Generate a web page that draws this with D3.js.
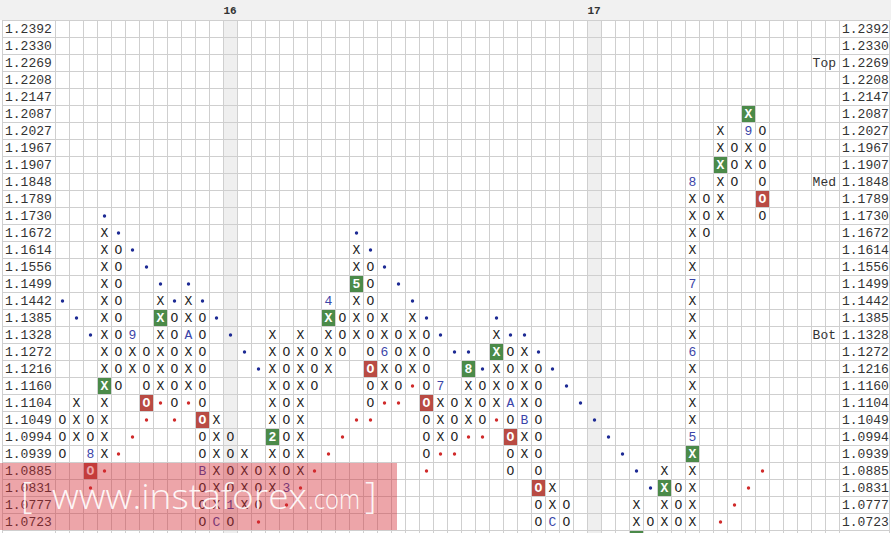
<!DOCTYPE html>
<html><head><meta charset="utf-8">
<script src="https://cdn.jsdelivr.net/npm/d3@7"></script>
<style>body{margin:0;background:#fff}svg{display:block}</style>
</head><body><svg id="c" width="891" height="533"></svg>
<script>
// ---- DATA ----
const priceLevels = ["1.2392","1.2330","1.2269","1.2208","1.2147","1.2087","1.2027","1.1967","1.1907","1.1848",
  "1.1789","1.1730","1.1672","1.1614","1.1556","1.1499","1.1442","1.1385","1.1328","1.1272",
  "1.1216","1.1160","1.1104","1.1049","1.0994","1.0939","1.0885","1.0831","1.0777","1.0723","1.0669"];
const shownLevels = priceLevels.slice(0, 30);
// one entry per column: [type, top level, bottom level] (null = empty column)
const boxColumns = [
  ["O","1.1049","1.0939"],["X","1.1104","1.0994"],["O","1.1049","1.0885"],["X","1.1672","1.0939"],
  ["O","1.1614","1.1160"],["X","1.1328","1.1216"],["O","1.1272","1.1104"],["X","1.1442","1.1160"],
  ["O","1.1385","1.1104"],["X","1.1442","1.1160"],["O","1.1385","1.0723"],["X","1.1049","1.0723"],
  ["O","1.0994","1.0723"],["X","1.0939","1.0777"],["O","1.0885","1.0777"],["X","1.1328","1.0831"],
  ["O","1.1272","1.0831"],["X","1.1328","1.0885"],["O","1.1272","1.1160"],["X","1.1442","1.1216"],
  ["O","1.1385","1.1272"],["X","1.1614","1.1328"],["O","1.1556","1.1104"],["X","1.1385","1.1160"],
  ["O","1.1328","1.1160"],["X","1.1385","1.1216"],["O","1.1328","1.0939"],["X","1.1160","1.0994"],
  ["O","1.1104","1.0994"],["X","1.1216","1.1049"],["O","1.1160","1.1049"],["X","1.1328","1.1104"],
  ["O","1.1272","1.0885"],["X","1.1272","1.0939"],["O","1.1216","1.0723"],["X","1.0831","1.0723"],
  ["O","1.0777","1.0723"],null,null,null,null,["X","1.0777","1.0669"],
  ["O","1.0723","1.0723"],["X","1.0885","1.0723"],["O","1.0831","1.0723"],["X","1.1848","1.0723"],
  ["O","1.1789","1.1672"],["X","1.2027","1.1730"],["O","1.1967","1.1848"],["X","1.2087","1.1907"],
  ["O","1.2027","1.1730"]
];
const columnCount = 56;
// month markers: [column, level, label]
const monthMarks = [
  [2,"1.0939","8"],[5,"1.1328","9"],[9,"1.1328","A"],[10,"1.0885","B"],[11,"1.0723","C"],
  [12,"1.0777","1"],[15,"1.0994","2"],[16,"1.0831","3"],[19,"1.1442","4"],[21,"1.1499","5"],
  [23,"1.1272","6"],[27,"1.1160","7"],[29,"1.1216","8"],[32,"1.1104","A"],[33,"1.1049","B"],
  [35,"1.0723","C"],[45,"1.0994","5"],[45,"1.1272","6"],[45,"1.1499","7"],[45,"1.1848","8"],[49,"1.2027","9"]
];
const greenBoxes = [[3,"1.1160"],[7,"1.1385"],[15,"1.0994"],[19,"1.1385"],[21,"1.1499"],[29,"1.1216"],
  [31,"1.1272"],[41,"1.0669"],[43,"1.0831"],[45,"1.0939"],[47,"1.1907"],[49,"1.2087"]];
const redBoxes = [[2,"1.0885"],[6,"1.1104"],[10,"1.1049"],[22,"1.1216"],[26,"1.1104"],[32,"1.0994"],
  [34,"1.0831"],[50,"1.1789"]];
const supportDots = [[0,"1.1442"],[1,"1.1385"],[2,"1.1328"],[3,"1.1730"],[4,"1.1672"],[5,"1.1614"],
  [6,"1.1556"],[7,"1.1499"],[8,"1.1442"],[9,"1.1499"],[10,"1.1442"],[11,"1.1385"],[12,"1.1328"],
  [13,"1.1272"],[14,"1.1216"],[21,"1.1672"],[22,"1.1614"],[23,"1.1556"],[24,"1.1499"],[25,"1.1442"],
  [26,"1.1385"],[27,"1.1328"],[28,"1.1272"],[29,"1.1272"],[30,"1.1216"],[31,"1.1385"],[32,"1.1328"],
  [33,"1.1328"],[34,"1.1272"],[35,"1.1216"],[36,"1.1160"],[37,"1.1104"],[38,"1.1049"],[39,"1.0994"],
  [40,"1.0939"],[41,"1.0885"],[42,"1.0831"]];
const resistanceDots = [[2,"1.0831"],[3,"1.0885"],[4,"1.0939"],[5,"1.0994"],[6,"1.1049"],[7,"1.1104"],
  [8,"1.1049"],[9,"1.1104"],[14,"1.0723"],[16,"1.0777"],[17,"1.0831"],[18,"1.0885"],[19,"1.0939"],
  [20,"1.0994"],[21,"1.1049"],[22,"1.1049"],[23,"1.1104"],[24,"1.1104"],[25,"1.1160"],[26,"1.0885"],
  [27,"1.0939"],[28,"1.0939"],[29,"1.0994"],[30,"1.0994"],[31,"1.1049"],[47,"1.0723"],[48,"1.0777"],
  [49,"1.0831"],[50,"1.0885"]];
const yearMarks = [[12,"16"],[38,"17"]];
const levelTags = [["1.2269","Top"],["1.1848","Med"],["1.1328","Bot"]];

// ---- DRAW ----
const W = 891, H = 533;
const svg = d3.select("#c");
const x = d3.scaleBand().domain(d3.range(columnCount)).range([55, 839]);
const y = d3.scaleBand().domain(priceLevels).range([20, 20 + 17 * priceLevels.length]);
const bw = x.bandwidth(), bh = y.bandwidth();
const mono = "'Courier New','Liberation Mono',monospace";

svg.append("rect").attr("width", W).attr("height", H).attr("fill", "#fff");
svg.append("rect").attr("x", 0).attr("y", 0).attr("width", W).attr("height", 20).attr("fill", "#f1f1f1");

// year shading
svg.selectAll("rect.yr").data(yearMarks).join("rect").attr("class", "yr")
  .attr("x", d => x(d[0])).attr("y", 20).attr("width", bw).attr("height", H - 20).attr("fill", "#efefef");
svg.selectAll("text.yr").data(yearMarks).join("text").attr("class", "yr")
  .attr("x", d => x(d[0]) + bw / 2).attr("y", 14).attr("text-anchor", "middle")
  .attr("font-family", mono).attr("font-size", 11).attr("font-weight", "bold").attr("fill", "#333").text(d => d[1]);

// grid
const g = svg.append("g").attr("stroke", "#cfcfcf").attr("stroke-width", 1);
const vx = d3.range(columnCount + 1).map(i => i < columnCount ? x(i) : x(columnCount - 1) + bw);
g.selectAll("line.v").data(vx.concat([2, 889])).join("line").attr("class", "v")
  .attr("x1", d => Math.round(d) + 0.5).attr("x2", d => Math.round(d) + 0.5).attr("y1", 20).attr("y2", H);
const hy = priceLevels.map(p => y(p));
g.selectAll("line.h").data(hy).join("line").attr("class", "h")
  .attr("x1", 2).attr("x2", 889.5).attr("y1", d => Math.round(d) + 0.5).attr("y2", d => Math.round(d) + 0.5);

// axis labels
[[5, "start"], [842, "start"]].forEach(([px, anchor]) => {
  svg.append("g").selectAll("text").data(shownLevels).join("text")
    .attr("x", px).attr("y", d => y(d) + bh / 2 + 1).attr("dominant-baseline", "middle")
    .attr("text-anchor", anchor).attr("font-family", mono).attr("font-size", 13).attr("fill", "#333").text(d => d);
});
svg.append("g").selectAll("text").data(levelTags).join("text")
  .attr("x", 836).attr("y", d => y(d[0]) + bh / 2 + 1).attr("dominant-baseline", "middle")
  .attr("text-anchor", "end").attr("font-family", mono).attr("font-size", 13).attr("fill", "#333").text(d => d[1]);

// boxes
const boxes = [];
boxColumns.forEach((c, i) => {
  if (!c) return;
  const a = priceLevels.indexOf(c[1]), b = priceLevels.indexOf(c[2]);
  for (let k = a; k <= b; k++) boxes.push({col: i, level: priceLevels[k], label: c[0], month: false});
});
const key = (c, l) => c + "|" + l;
const boxMap = new Map(boxes.map(d => [key(d.col, d.level), d]));
monthMarks.forEach(([c, l, t]) => { const d = boxMap.get(key(c, l)); if (d) { d.label = t; d.month = true; } });
const fillMap = new Map();
greenBoxes.forEach(([c, l]) => fillMap.set(key(c, l), "#4b8a49"));
redBoxes.forEach(([c, l]) => fillMap.set(key(c, l), "#b94b43"));

svg.append("g").selectAll("rect").data([...fillMap.entries()]).join("rect")
  .attr("x", d => x(+d[0].split("|")[0]) + 1).attr("y", d => y(d[0].split("|")[1]) + 1)
  .attr("width", bw - 1).attr("height", bh - 1).attr("fill", d => d[1]);

svg.append("g").selectAll("text").data(boxes.filter(d => shownLevels.includes(d.level))).join("text")
  .attr("x", d => x(d.col) + bw / 2 + 0.5).attr("y", d => y(d.level) + bh / 2 + 1)
  .attr("text-anchor", "middle").attr("dominant-baseline", "middle")
  .attr("font-family", mono).attr("font-size", 13)
  .attr("font-weight", d => fillMap.has(key(d.col, d.level)) ? "bold" : "normal")
  .attr("fill", d => fillMap.has(key(d.col, d.level)) ? "#fff" : (d.month ? "#3a44a8" : "#222"))
  .text(d => d.label);

// trend dots
svg.append("g").selectAll("circle").data(supportDots).join("circle")
  .attr("cx", d => x(d[0]) + bw / 2 + 0.5).attr("cy", d => y(d[1]) + bh / 2 + 0.5).attr("r", 1.7).attr("fill", "#1d2a94");
svg.append("g").selectAll("circle").data(resistanceDots).join("circle")
  .attr("cx", d => x(d[0]) + bw / 2 + 0.5).attr("cy", d => y(d[1]) + bh / 2 + 0.5).attr("r", 1.7).attr("fill", "#d02a2a");

// watermark
const wm = svg.append("g");
wm.append("rect").attr("x", 0).attr("y", 463).attr("width", 397).attr("height", 67).attr("fill", "rgba(212,40,50,0.42)");
const wf = "'Open Sans','Segoe UI',Lato,sans-serif";
wm.append("text").attr("x", 21).attr("y", 508).attr("font-family", wf).attr("font-weight", 300)
  .attr("font-size", 36).attr("fill", "rgba(255,255,255,0.92)").text("[");
wm.append("text").attr("x", 52).attr("y", 509).attr("font-family", wf).attr("font-weight", 300)
  .attr("font-size", 35).attr("textLength", 255).attr("lengthAdjust", "spacingAndGlyphs")
  .attr("fill", "rgba(255,255,255,0.92)").text("www.instaforex");
wm.append("text").attr("x", 308).attr("y", 509).attr("font-family", wf).attr("font-weight", 300)
  .attr("font-size", 27).attr("textLength", 52).attr("lengthAdjust", "spacingAndGlyphs")
  .attr("fill", "rgba(255,255,255,0.92)").text(".com");
wm.append("text").attr("x", 365).attr("y", 508).attr("font-family", wf).attr("font-weight", 300)
  .attr("font-size", 36).attr("fill", "rgba(255,255,255,0.92)").text("]");
</script></body></html>
